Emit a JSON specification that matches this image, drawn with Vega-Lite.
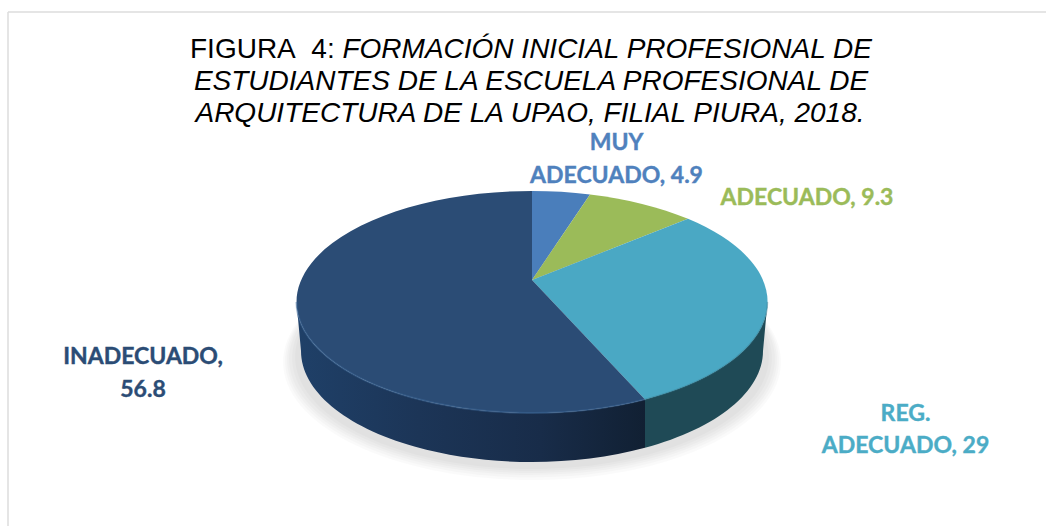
{
"$schema":"https://vega.github.io/schema/vega-lite/v6.json",
"width":1038,"height":514,
"autosize":"none",
"padding":{"left":8,"top":12,"right":0,"bottom":0},
"background":"#ffffff",
"view":{"stroke":null},
"datasets":{
"porcentajes":[
{"categoria":"MUY ADECUADO","valor":4.9,"etiqueta":"MUY\nADECUADO, 4.9"},
{"categoria":"ADECUADO","valor":9.3,"etiqueta":"ADECUADO, 9.3"},
{"categoria":"REG. ADECUADO","valor":29,"etiqueta":"REG.\nADECUADO, 29"},
{"categoria":"INADECUADO","valor":56.8,"etiqueta":"INADECUADO,\n56.8"}
]},
"resolve":{"scale":{"shape":"independent","color":"independent","x":"independent","y":"independent"}},
"layer":[
{"data":{"values":[{"borde":"izquierdo"}]},"mark":{"type":"rule","color":"#dcdcdc","strokeWidth":1.5},"encoding":{"x":{"datum":0,"type":"quantitative","scale":{"domain":[0,1]},"axis":null}}},
{"data":{"values":[{"borde":"superior"}]},"mark":{"type":"rule","color":"#dcdcdc","strokeWidth":1.5},"encoding":{"y":{"datum":1,"type":"quantitative","scale":{"domain":[0,1]},"axis":null}}},
{"data":{"values":[{"sombra":"a"},{"sombra":"b"},{"sombra":"c"},{"sombra":"d"},{"sombra":"e"},{"sombra":"f"}]},
"mark":{"type":"point","filled":true,"size":4,"color":"#000000","opacity":0.018},
"encoding":{"shape":{"field":"sombra","type":"nominal","legend":null,"scale":{"domain":["a","b","c","d","e","f"],"range":[
"M-244,93A249,118,0,1,1,254,93A249,118,0,1,1,-244,93Z",
"M-242,92A247,116.5,0,1,1,252,92A247,116.5,0,1,1,-242,92Z",
"M-240,91A245,115,0,1,1,250,91A245,115,0,1,1,-240,91Z",
"M-238,90A243,114,0,1,1,248,90A243,114,0,1,1,-238,90Z",
"M-235,89A240,113,0,1,1,245,89A240,113,0,1,1,-235,89Z",
"M-232,88A237,112,0,1,1,242,88A237,112,0,1,1,-232,88Z"]}}}},
{"data":{"name":"porcentajes"},"transform":[{"filter":"datum.categoria==='REG. ADECUADO'"}],
"mark":{"type":"point","filled":true,"size":4,"opacity":1,"color":"#1f4a56",
"shape":"M118,130.4A235.5,111,0,0,0,240.5,33L236,82A231,111,0,0,1,118,178.8Z"}},
{"data":{"name":"porcentajes"},"transform":[{"filter":"datum.categoria==='INADECUADO'"}],
"mark":{"type":"point","filled":true,"size":4,"opacity":1,
"fill":{"gradient":"linear","x1":0,"y1":0,"x2":1,"y2":0,"stops":[{"offset":0,"color":"#1f4068"},{"offset":0.35,"color":"#1c3557"},{"offset":0.7,"color":"#182c49"},{"offset":1,"color":"#112033"}]},
"shape":"M118,130.4A235.5,111,0,0,1,-230.5,33L-226,82A231,111,0,0,0,118,178.8Z"}},
{"data":{"name":"porcentajes"},
"mark":{"type":"point","filled":true,"size":4,"opacity":1},
"encoding":{
"shape":{"field":"categoria","type":"nominal","legend":null,"scale":{"domain":["MUY ADECUADO","ADECUADO","REG. ADECUADO","INADECUADO"],"range":[
"M5,11L5,-78A235.5,111,0,0,1,63,-74.6Z",
"M5,11L63,-74.6A235.5,111,0,0,1,161,-50.2Z",
"M5,11L161,-50.2A235.5,111,0,0,1,118,130.4Z",
"M5,11L118,130.4A235.5,111,0,1,1,5,-78Z"]}},
"color":{"field":"categoria","type":"nominal","legend":null,"scale":{"domain":["MUY ADECUADO","ADECUADO","REG. ADECUADO","INADECUADO"],"range":["#4a7ebb","#9bbb59","#4aa8c4","#2b4c75"]}},
"tooltip":[{"field":"categoria"},{"field":"valor","type":"quantitative"}]}},
{"data":{"name":"porcentajes"},"transform":[{"filter":"datum.categoria==='INADECUADO'"}],
"mark":{"type":"point","filled":false,"size":4,"opacity":0.45,"stroke":"#3f6b9c","strokeWidth":2,
"shape":"M118,130.4A235.5,111,0,0,1,-230.5,33"}},
{"data":{"name":"porcentajes"},"transform":[{"filter":"datum.categoria==='REG. ADECUADO'"}],
"mark":{"type":"point","filled":false,"size":4,"opacity":0.35,"stroke":"#2f7186","strokeWidth":1.5,
"shape":"M118,130.4A235.5,111,0,0,0,240.5,33"}},
{"data":{"values":[{"parte":"FIGURA\u00a0\u00a04:"}]},"mark":{"type":"text","font":"Liberation Sans","fontSize":28,"color":"#000000","align":"left","baseline":"alphabetic","dx":-337,"dy":-211},"encoding":{"text":{"field":"parte"}}},
{"data":{"values":[{"parte":"FORMACIÓN INICIAL PROFESIONAL DE"}]},"mark":{"type":"text","font":"Liberation Sans","fontSize":28,"fontStyle":"italic","color":"#000000","align":"right","baseline":"alphabetic","dx":345,"dy":-211},"encoding":{"text":{"field":"parte"}}},
{"data":{"values":[{"parte":"ESTUDIANTES DE LA ESCUELA PROFESIONAL DE"}]},"mark":{"type":"text","font":"Liberation Sans","fontSize":28,"fontStyle":"italic","color":"#000000","baseline":"alphabetic","dx":4,"dy":-179},"encoding":{"text":{"field":"parte"}}},
{"data":{"values":[{"parte":"ARQUITECTURA DE LA UPAO, FILIAL PIURA, 2018."}]},"mark":{"type":"text","font":"Liberation Sans","fontSize":28,"fontStyle":"italic","color":"#000000","baseline":"alphabetic","dx":3,"dy":-147},"encoding":{"text":{"field":"parte"}}},
{"data":{"name":"porcentajes"},"transform":[{"filter":"datum.categoria==='MUY ADECUADO'"}],"mark":{"type":"text","font":"Lato","fontWeight":"bold","fontSize":23,"color":"#4f81bd","stroke":"#4f81bd","strokeWidth":0.4,"lineBreak":"\n","lineHeight":33,"baseline":"alphabetic","dx":89.5,"dy":-119},"encoding":{"text":{"field":"etiqueta"}}},
{"data":{"name":"porcentajes"},"transform":[{"filter":"datum.categoria==='ADECUADO'"}],"mark":{"type":"text","font":"Lato","fontWeight":"bold","fontSize":23,"color":"#9bbb59","stroke":"#9bbb59","strokeWidth":0.4,"lineBreak":"\n","lineHeight":33,"baseline":"alphabetic","dx":280,"dy":-64},"encoding":{"text":{"field":"etiqueta"}}},
{"data":{"name":"porcentajes"},"transform":[{"filter":"datum.categoria==='REG. ADECUADO'"}],"mark":{"type":"text","font":"Lato","fontWeight":"bold","fontSize":23,"color":"#4bacc6","stroke":"#4bacc6","strokeWidth":0.4,"lineBreak":"\n","lineHeight":32,"baseline":"alphabetic","dx":378.5,"dy":152},"encoding":{"text":{"field":"etiqueta"}}},
{"data":{"name":"porcentajes"},"transform":[{"filter":"datum.categoria==='INADECUADO'"}],"mark":{"type":"text","font":"Lato","fontWeight":"bold","fontSize":23,"color":"#2b4c75","stroke":"#2b4c75","strokeWidth":0.4,"lineBreak":"\n","lineHeight":33,"baseline":"alphabetic","dx":-384,"dy":95},"encoding":{"text":{"field":"etiqueta"}}}
]
}
